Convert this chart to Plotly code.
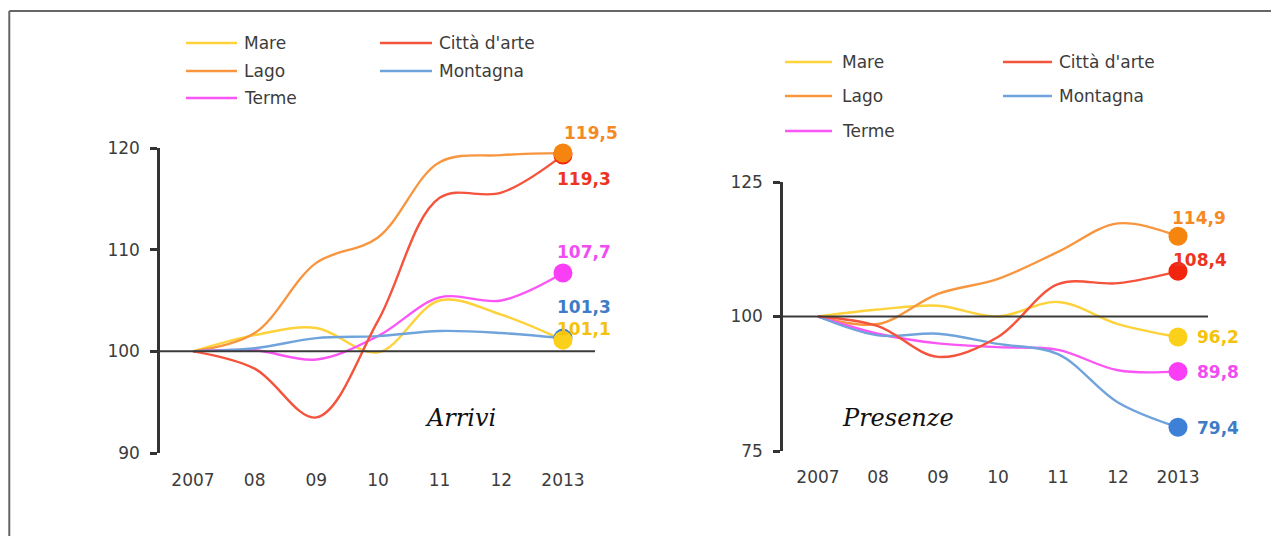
import plotly.graph_objects as go

W, H = 1279, 536
OFF = 8  # page body margin in front of the figure

years = ["2007", "08", "09", "10", "11", "12", "2013"]
series_names = ["Mare", "Città d'arte", "Lago", "Montagna", "Terme"]

# Arrivi (index 2007 = 100)
arrivi_mare = [100, 101.6, 102.3, 99.9, 105.0, 103.6, 101.1]
arrivi_citta = [100, 98.3, 93.5, 103.0, 115.1, 115.6, 119.3]
arrivi_lago = [100, 101.8, 108.7, 111.2, 118.6, 119.3, 119.5]
arrivi_montagna = [100, 100.3, 101.3, 101.5, 102.0, 101.8, 101.3]
arrivi_terme = [100, 100.1, 99.2, 101.5, 105.3, 105.0, 107.7]

# Presenze (index 2007 = 100)
presenze_mare = [100, 101.3, 102.0, 100.0, 102.7, 98.6, 96.2]
presenze_citta = [100, 98.2, 92.5, 96.2, 106.0, 106.2, 108.4]
presenze_lago = [100, 98.6, 104.2, 107.0, 112.0, 117.3, 114.9]
presenze_montagna = [100, 96.5, 96.8, 94.9, 93.0, 84.0, 79.4]
presenze_terme = [100, 96.8, 95.0, 94.3, 93.8, 90.0, 89.8]

arrivi_ticks = [90, 100, 110, 120]
presenze_ticks = [75, 100, 125]

line_colors = {"Mare": "#FDD23A", "Città d'arte": "#F4533C", "Lago": "#F8963F",
               "Montagna": "#6FA3DB", "Terme": "#FB55F5"}
dot_colors = {"Mare": "#FAD01A", "Città d'arte": "#F2260F", "Lago": "#F5850E",
              "Montagna": "#3D80D6", "Terme": "#FA3EF6"}
label_colors = {"Mare": "#F4C20D", "Città d'arte": "#EC3324", "Lago": "#F58A24",
                "Montagna": "#3E7CC8", "Terme": "#F14CF0"}

TXT = "#3c3c3c"
FONT = "DejaVu Sans, Arial, sans-serif"

arrivi = {"Mare": arrivi_mare, "Città d'arte": arrivi_citta, "Lago": arrivi_lago,
          "Montagna": arrivi_montagna, "Terme": arrivi_terme}
presenze = {"Mare": presenze_mare, "Città d'arte": presenze_citta, "Lago": presenze_lago,
            "Montagna": presenze_montagna, "Terme": presenze_terme}

# label offsets (px) relative to the end point
arrivi_offsets = {"Lago": (28, 20), "Città d'arte": (21, -24), "Terme": (21, 21),
                  "Montagna": (21, 31), "Mare": (21, 11)}
presenze_offsets = {"Lago": (21, 18), "Città d'arte": (22, 11), "Mare": (40, 0),
                    "Terme": (40, -1), "Montagna": (40, -1)}

draw_order = ["Mare", "Lago", "Terme", "Montagna", "Città d'arte"]


def px_x(x):
    return (x - OFF) / W


def px_y(y):
    return 1 - (y - OFF) / H


fig = go.Figure()
shapes = []
annotations = []

panels = [
    dict(data=arrivi, xa="x", ya="y", offsets=arrivi_offsets),
    dict(data=presenze, xa="x2", ya="y2", offsets=presenze_offsets),
]

last = len(years) - 1
for p in panels:
    for name in draw_order:
        vals = p["data"][name]
        fig.add_trace(go.Scatter(
            x=years, y=vals, mode="lines", xaxis=p["xa"], yaxis=p["ya"],
            line=dict(color=line_colors[name], width=2.4, shape="spline", smoothing=1.0),
            showlegend=False, hoverinfo="skip", cliponaxis=False))
    for name in ["Montagna", "Mare", "Terme", "Città d'arte", "Lago"]:
        vals = p["data"][name]
        fig.add_trace(go.Scatter(
            x=[years[-1]], y=[vals[-1]], mode="markers", xaxis=p["xa"], yaxis=p["ya"],
            marker=dict(color=dot_colors[name], size=19), showlegend=False,
            hoverinfo="skip", cliponaxis=False))
        dx, dy = p["offsets"][name]
        annotations.append(dict(
            x=last, y=vals[-1], xref=p["xa"], yref=p["ya"],
            text="<b>" + f"{vals[-1]:.1f}".replace(".", ",") + "</b>",
            showarrow=False, xshift=dx, yshift=dy, xanchor="center", yanchor="middle",
            font=dict(family=FONT, size=17, color=label_colors[name])))
    # reference line at 100
    shapes.append(dict(type="line", xref=p["xa"] + " domain", yref=p["ya"],
                       x0=0, x1=1, y0=100, y1=100,
                       line=dict(color="#3a3a3a", width=2)))

axis_common = dict(showgrid=False, zeroline=False, fixedrange=True, automargin=False)

fig.update_layout(
    width=W, height=H,
    margin=dict(l=0, r=0, t=0, b=0, autoexpand=False),
    paper_bgcolor="white", plot_bgcolor="rgba(0,0,0,0)",
    font=dict(family=FONT, size=15, color=TXT),
    xaxis=dict(domain=[px_x(160), px_x(595)], range=[-0.535, 6.52], type="category",
               showline=False, ticks="", ticklabelstandoff=15, anchor="y",
               tickfont=dict(size=17, color=TXT), **axis_common),
    yaxis=dict(domain=[px_y(453), px_y(148)], range=[90, 120], tickvals=arrivi_ticks,
               showline=True, linecolor="#333333", linewidth=2.5, ticks="outside",
               ticklen=7, tickwidth=2.5, tickcolor="#333333", ticklabelstandoff=7,
               anchor="x", tickfont=dict(size=17, color=TXT), **axis_common),
    xaxis2=dict(domain=[px_x(783), px_x(1208)], range=[-0.583, 6.5], type="category",
                showline=False, ticks="", ticklabelstandoff=14, anchor="y2",
                tickfont=dict(size=17, color=TXT), **axis_common),
    yaxis2=dict(domain=[px_y(451), px_y(182)], range=[75, 125], tickvals=presenze_ticks,
                showline=True, linecolor="#333333", linewidth=2.5, ticks="outside",
                ticklen=7, tickwidth=2.5, tickcolor="#333333", ticklabelstandoff=7,
                anchor="x2", tickfont=dict(size=17, color=TXT), **axis_common),
)

# custom two-column legends
legend_layouts = [
    dict(rows=[43, 71, 98], cols=[(186, 237, 242), (380, 432, 437)]),
    dict(rows=[62, 96, 131], cols=[(785, 832, 840), (1003, 1052, 1057)]),
]
for lg in legend_layouts:
    for i, name in enumerate(series_names):
        r, c = divmod(i, 2)
        x0, x1, xt = lg["cols"][c]
        y = lg["rows"][r]
        shapes.append(dict(type="line", xref="paper", yref="paper",
                           x0=px_x(x0), x1=px_x(x1), y0=px_y(y), y1=px_y(y),
                           line=dict(color=line_colors[name], width=2.5)))
        annotations.append(dict(x=px_x(xt), y=px_y(y), xref="paper", yref="paper",
                                text=name, showarrow=False, xanchor="left", yanchor="middle",
                                font=dict(family=FONT, size=17, color=TXT)))

# panel titles
for txt, cx in [("Arrivi", 460), ("Presenze", 898)]:
    annotations.append(dict(x=px_x(cx), y=px_y(418), xref="paper", yref="paper",
                            text=f"<i>{txt}</i>", showarrow=False,
                            xanchor="center", yanchor="middle",
                            font=dict(family="DejaVu Serif, serif", size=24, color="#111111")))

# outer frame
shapes.append(dict(type="line", xref="paper", yref="paper", x0=0.001, x1=1,
                   y0=px_y(11), y1=px_y(11), line=dict(color="#666666", width=2)))
shapes.append(dict(type="line", xref="paper", yref="paper", x0=0.001, x1=0.001,
                   y0=px_y(11), y1=0, line=dict(color="#666666", width=2)))

fig.update_layout(shapes=shapes, annotations=annotations)

fig.write_html("out.html")
